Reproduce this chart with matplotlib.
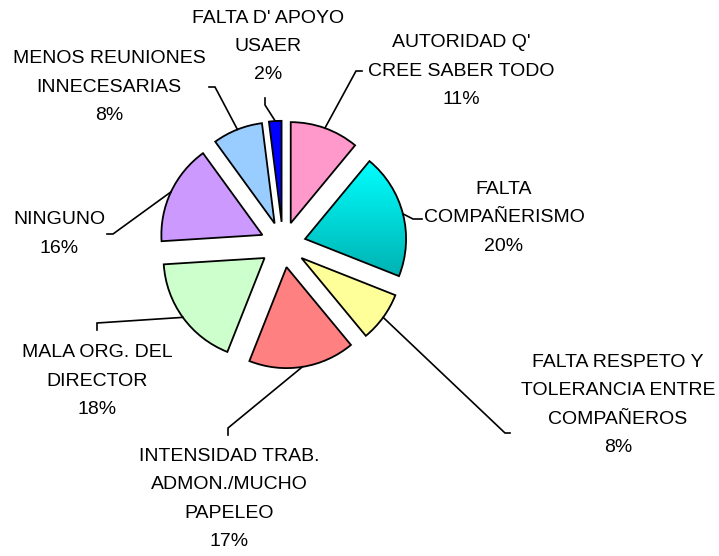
import numpy as np
import matplotlib
matplotlib.use("Agg")
import matplotlib.pyplot as plt
from matplotlib.colors import LinearSegmentedColormap

# ---- data ----
labels = ["AUTORIDAD Q'\nCREE SABER TODO", "FALTA\nCOMPAÑERISMO",
          "FALTA RESPETO Y\nTOLERANCIA ENTRE\nCOMPAÑEROS",
          "INTENSIDAD TRAB.\nADMON./MUCHO\nPAPELEO",
          "MALA ORG. DEL\nDIRECTOR", "NINGUNO",
          "MENOS REUNIONES\nINNECESARIAS", "FALTA D' APOYO\nUSAER"]
values = [11, 20, 8, 17, 18, 16, 8, 2]
colors = ["#FF99CC", "#00FFFF", "#FFFF99", "#FF8080",
          "#CCFFCC", "#CC99FF", "#99CCFF", "#0000FF"]

# ---- layout (pixel coords, y measured from top) ----
W, H = 719, 556
center_px = (283, 244.6)
radius = 101
explode_px = 22.8
label_pos = [(461, 71), (504, 218), (618, 405), (229, 499),
             (97, 381), (59, 234), (109, 87), (268, 46.5)]
elbows = [(356, 71), (413, 219), (505, 433), (228, 428),
          (97, 323), (113, 234), (215, 87), (265, 105)]
ticks = [(362, 71), (422, 219), (510, 433), (228, 435),
         (97, 330), (107, 234), (209, 87), (265, 98)]

def Y(y):
    return H - y

fig = plt.figure(figsize=(W / 100, H / 100), dpi=100)
ax = fig.add_axes([0, 0, 1, 1])

wedges, _ = ax.pie(values, colors=colors, startangle=90, counterclock=False,
                   radius=radius, center=(center_px[0], Y(center_px[1])),
                   explode=[explode_px] * len(values),
                   wedgeprops=dict(edgecolor="black", linewidth=1.3))

# gradient on the cyan slice
w = wedges[1]
verts = w.get_path().vertices
x0, x1 = verts[:, 0].min(), verts[:, 0].max()
y0, y1 = verts[:, 1].min(), verts[:, 1].max()
cmap = LinearSegmentedColormap.from_list("cy", ["#00FFFF", "#00B2B2"])
grad = np.linspace(0, 1, 256).reshape(-1, 1)
im = ax.imshow(grad, cmap=cmap, extent=(x0, x1, y0, y1), origin="upper",
               aspect="auto", zorder=1.5)
im.set_clip_path(w)
w.set_facecolor("none")
w.set_zorder(2)

font = dict(family=["Liberation Sans", "DejaVu Sans"], size=14)
for i, wd in enumerate(wedges):
    th = np.deg2rad(0.5 * (wd.theta1 + wd.theta2))
    cx, cy = wd.center
    sx, sy = cx + wd.r * np.cos(th), cy + wd.r * np.sin(th)
    ex, ey = elbows[i]
    tx, ty = ticks[i]
    ax.plot([sx, ex, tx], [sy, Y(ey), Y(ty)], color="black", lw=1.2,
            solid_joinstyle="miter", zorder=3)
    lx, ly = label_pos[i]
    ax.text(lx, Y(ly), f"{labels[i]}\n{values[i]}%", ha="center", va="center",
            multialignment="center", linespacing=1.88, **font)

ax.set_xlim(0, W)
ax.set_ylim(0, H)
ax.set_aspect("equal")
ax.axis("off")
fig.savefig("out.png", dpi=100, facecolor="white")
